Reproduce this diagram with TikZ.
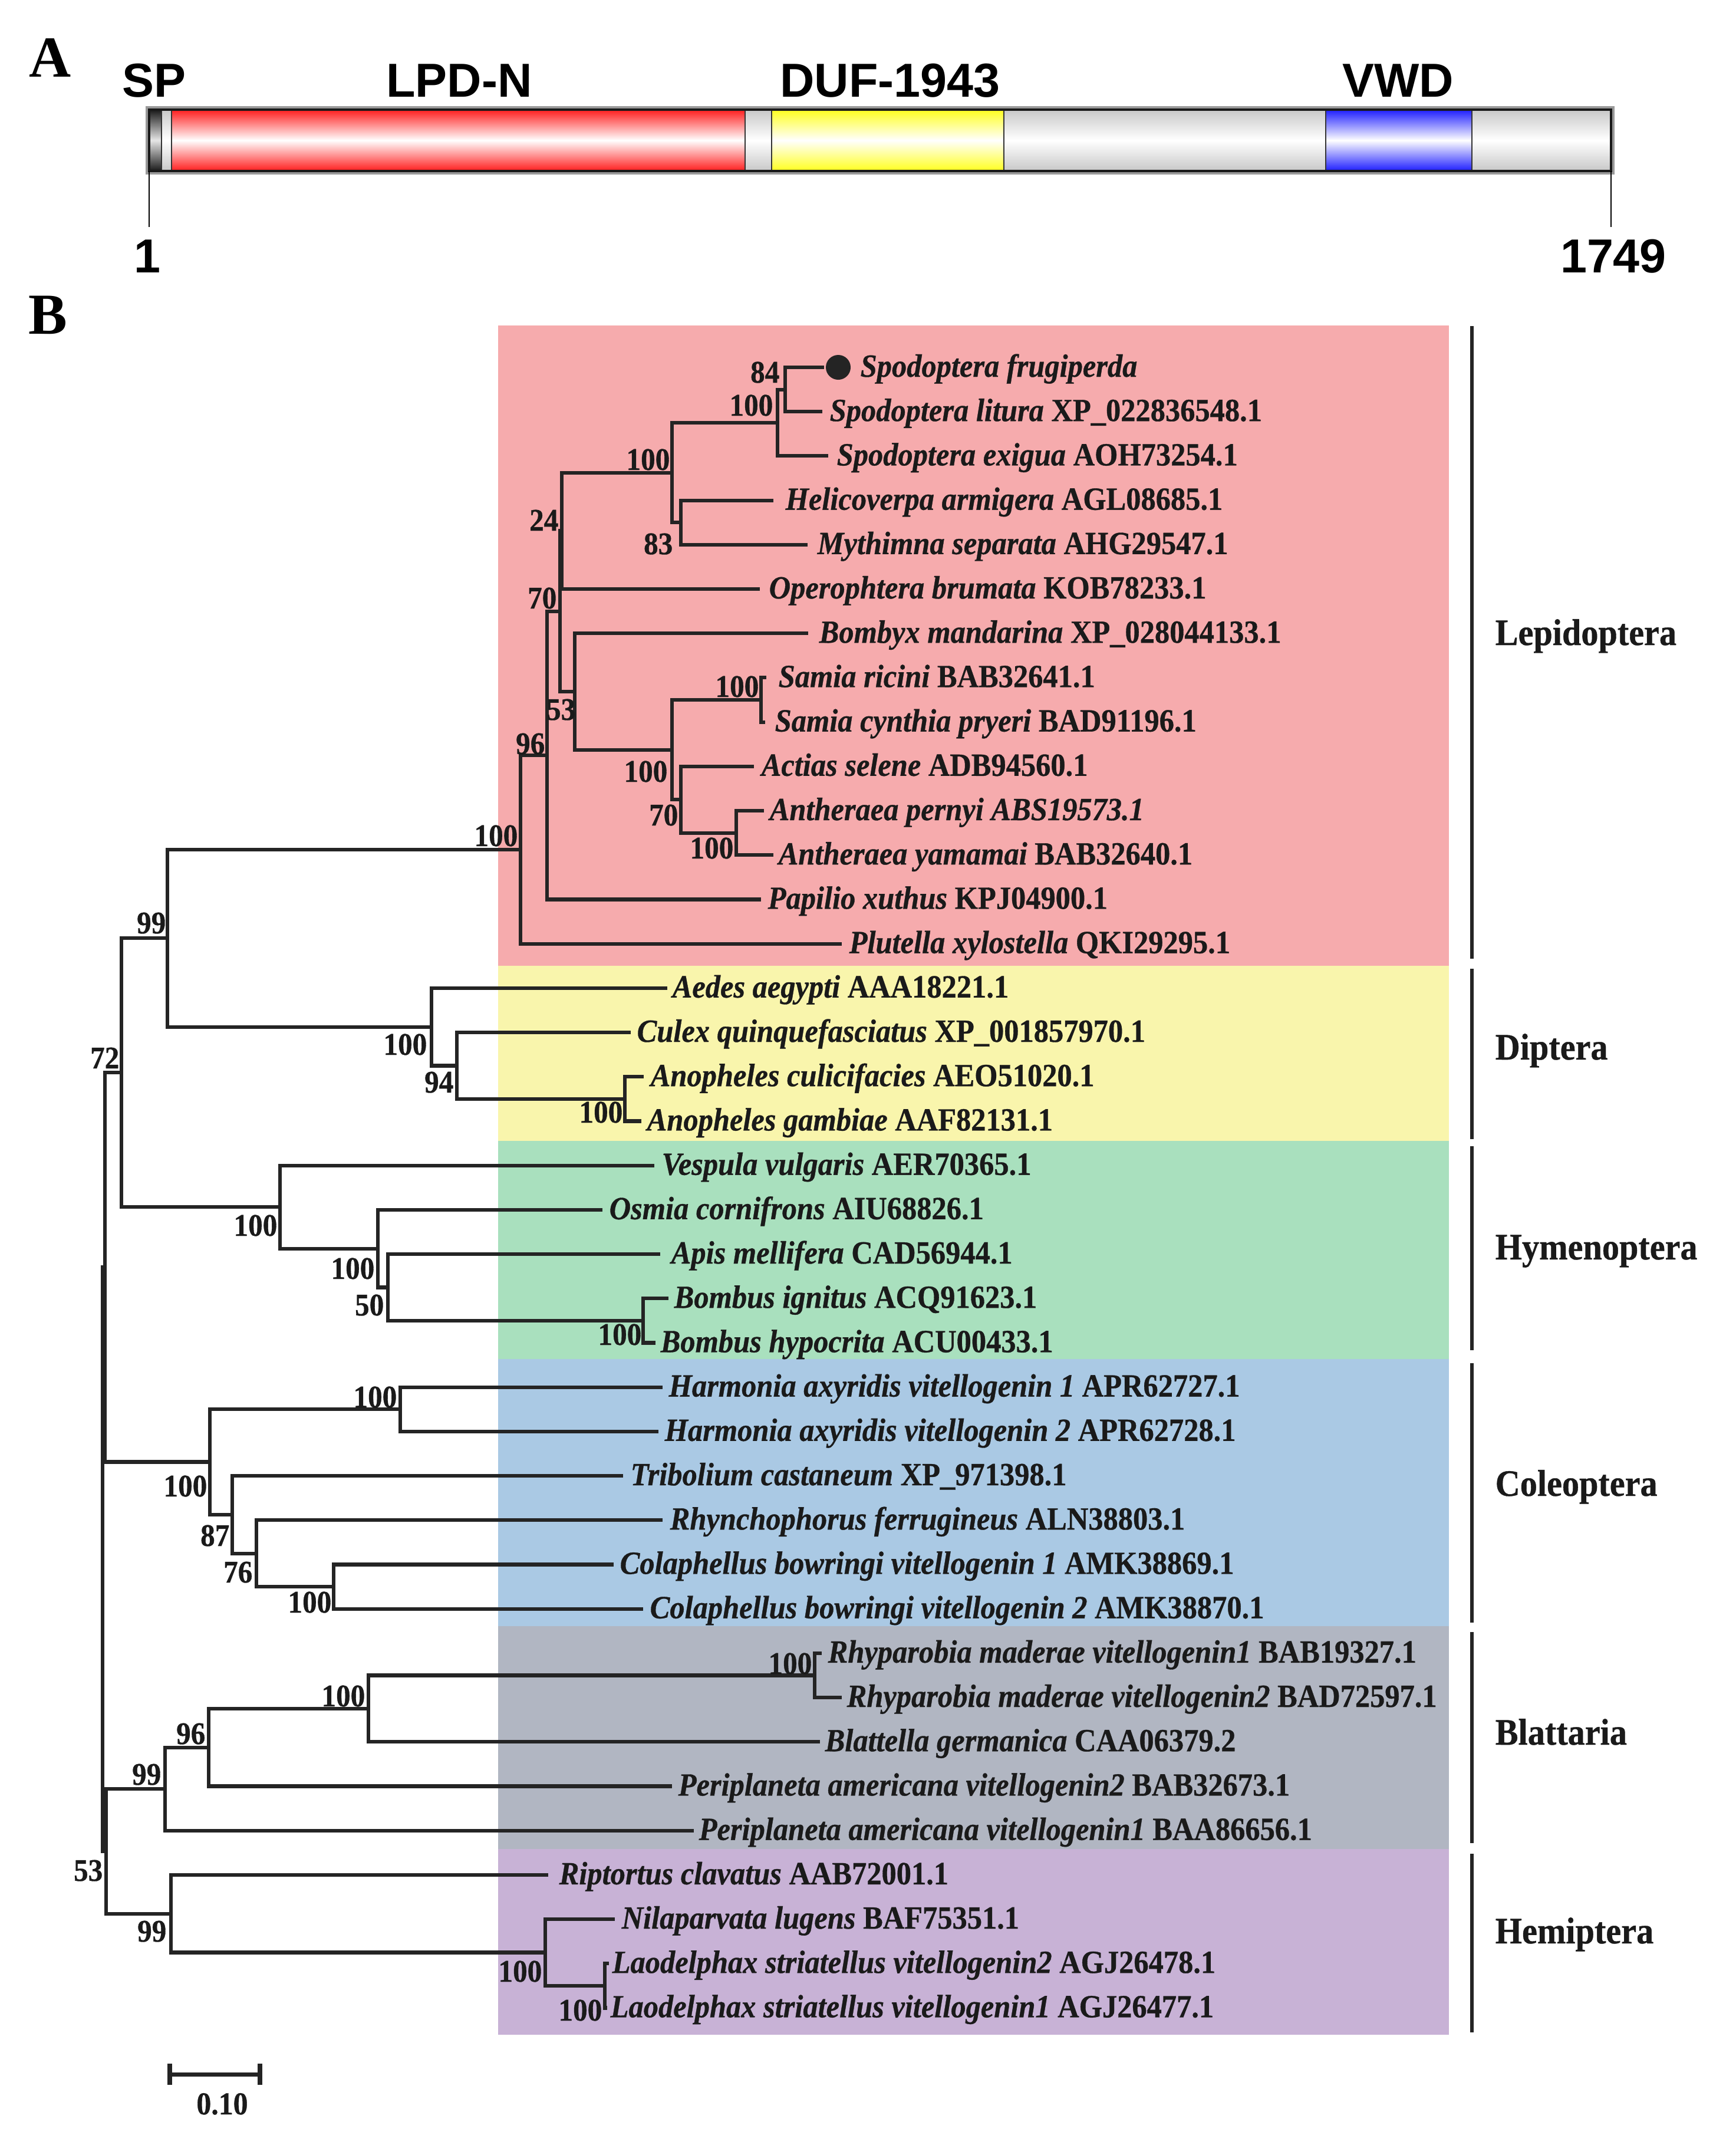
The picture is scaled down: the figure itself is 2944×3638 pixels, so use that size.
\documentclass[tikz,border=0pt]{standalone}
\usepackage{fontspec}
\setmainfont{Liberation Serif}
\setsansfont{Liberation Sans}
\newfontfamily\taxfont{Liberation Serif}[FakeStretch=0.92, BoldFeatures={FakeBold=0.6}, BoldItalicFeatures={FakeBold=0.6}]
\definecolor{lc}{RGB}{36,36,36}
\definecolor{tc}{RGB}{26,26,26}
\definecolor{pinkbg}{RGB}{246,171,173}
\definecolor{yellowbg}{RGB}{249,245,172}
\definecolor{greenbg}{RGB}{169,224,190}
\definecolor{bluebg}{RGB}{170,201,228}
\definecolor{graybg}{RGB}{177,182,194}
\definecolor{purplebg}{RGB}{200,178,214}
\definecolor{segred}{RGB}{255,30,30}
\definecolor{segyel}{RGB}{255,255,30}
\definecolor{segblu}{RGB}{30,30,255}
\definecolor{seggry}{RGB}{200,200,200}
\newcommand{\mytx}[2]{\textit{#1} #2}
\tikzset{
  br/.style={draw=lc, line width=1.75pt, line join=miter},
  tx/.style={anchor=base west, inner sep=0pt, font=\taxfont\fontsize{15.6}{18}\selectfont\bfseries, text=tc},
  bs/.style={anchor=base east, inner sep=0pt, font=\taxfont\fontsize{15.2}{18}\selectfont\bfseries, text=tc},
  clade/.style={anchor=base west, inner sep=0pt, font=\taxfont\fontsize{18}{21}\selectfont\bfseries, text=tc},
  cbar/.style={draw=lc, line width=1.7pt},
  dom/.style={anchor=base, inner sep=0pt, font=\fontsize{23}{27}\selectfont\sffamily\bfseries, text=black},
  panel/.style={anchor=base, inner sep=0pt, font=\fontsize{28}{30}\selectfont\bfseries, text=black},
  segline/.style={draw=black!80, line width=0.5pt},
}
\begin{document}
\begin{tikzpicture}[x=0.01cm, y=-0.01cm]
\useasboundingbox (0,0) rectangle (2944,3638);
\fill[white] (0,0) rectangle (2944,3638);

% ---------------- Panel A ----------------
\node[panel] (pA) at (85,130) {A};
\shade[top color=black!90, bottom color=black!90, middle color=black!10] (253,186) rectangle (274,290);
\shade[top color=seggry, bottom color=seggry, middle color=white] (274,186) rectangle (291,290);
\shade[top color=segred, bottom color=segred, middle color=white] (291,186) rectangle (1264,290);
\shade[top color=seggry, bottom color=seggry, middle color=white] (1264,186) rectangle (1309,290);
\shade[top color=segyel, bottom color=segyel, middle color=white] (1309,186) rectangle (1703,290);
\shade[top color=seggry, bottom color=seggry, middle color=white] (1703,186) rectangle (2249,290);
\shade[top color=segblu, bottom color=segblu, middle color=white] (2249,186) rectangle (2497,290);
\shade[top color=seggry, bottom color=seggry, middle color=white] (2497,186) rectangle (2733,290);
\foreach \sx in {274,291,1264,1309,1703,2249,2497}
  \draw[segline] (\sx,186) -- (\sx,290);
\draw[draw=black!40, line width=2.2pt] (251,184) rectangle (2735,292);
\draw[draw=black!90, line width=1.2pt] (253,186) rectangle (2733,290);
\draw[draw=black, line width=0.6pt] (253,290) -- (253,385);
\draw[draw=black, line width=0.6pt] (2733,290) -- (2733,385);
\node[dom] (dSP) at (261,164) {SP};
\node[dom] (dLPD) at (779,164) {LPD-N};
\node[dom] (dDUF) at (1510,164) {DUF-1943};
\node[dom] (dVWD) at (2372,164) {VWD};
\node[dom] (n1) at (250,462) {1};
\node[dom] (n1749) at (2737,462) {1749};

% ---------------- Panel B ----------------
\node[panel] (pB) at (81,566) {B};
\fill[pinkbg] (845,552) rectangle (2458,1638);
\fill[yellowbg] (845,1638) rectangle (2458,1935);
\fill[greenbg] (845,1935) rectangle (2458,2305);
\fill[bluebg] (845,2305) rectangle (2458,2758);
\fill[graybg] (845,2758) rectangle (2458,3136);
\fill[purplebg] (845,3136) rectangle (2458,3451);

% clade bars and labels
\draw[cbar] (2497,553) -- (2497,1626);
\draw[cbar] (2497,1643) -- (2497,1932);
\draw[cbar] (2497,1944) -- (2497,2290);
\draw[cbar] (2497,2312) -- (2497,2752);
\draw[cbar] (2497,2768) -- (2497,3126);
\draw[cbar] (2497,3144) -- (2497,3447);
\node[clade] (cLep) at (2536,1094) {Lepidoptera};
\node[clade] (cDip) at (2536,1797) {Diptera};
\node[clade] (cHym) at (2536,2136) {Hymenoptera};
\node[clade] (cCol) at (2536,2537) {Coleoptera};
\node[clade] (cBla) at (2536,2959) {Blattaria};
\node[clade] (cHem) at (2536,3296) {Hemiptera};

% tip coordinates
\coordinate (t1) at (1398,623.0);
\coordinate (t2) at (1395,698.2);
\coordinate (t3) at (1405,773.4);
\coordinate (t4) at (1312,848.6);
\coordinate (t5) at (1370,923.8);
\coordinate (t6) at (1289,999.0);
\coordinate (t7) at (1371,1074.2);
\coordinate (t8) at (1300,1149.4);
\coordinate (t9) at (1298,1224.6);
\coordinate (t10) at (1279,1299.8);
\coordinate (t11) at (1296,1375.0);
\coordinate (t12) at (1312,1450.2);
\coordinate (t13) at (1291,1525.4);
\coordinate (t14) at (1428,1600.6);
\coordinate (t15) at (1132,1675.8);
\coordinate (t16) at (1070,1751.0);
\coordinate (t17) at (1092,1826.2);
\coordinate (t18) at (1088,1901.4);
\coordinate (t19) at (1110,1976.6);
\coordinate (t20) at (1022,2051.8);
\coordinate (t21) at (1120,2127.0);
\coordinate (t22) at (1134,2202.2);
\coordinate (t23) at (1112,2277.4);
\coordinate (t24) at (1124,2352.6);
\coordinate (t25) at (1117,2427.8);
\coordinate (t26) at (1057,2503.0);
\coordinate (t27) at (1124,2578.2);
\coordinate (t28) at (1041,2653.4);
\coordinate (t29) at (1091,2728.6);
\coordinate (t30) at (1394,2803.8);
\coordinate (t31) at (1428,2879.0);
\coordinate (t32) at (1391,2954.2);
\coordinate (t33) at (1140,3029.4);
\coordinate (t34) at (1177,3104.6);
\coordinate (t35) at (930,3179.8);
\coordinate (t36) at (1043,3255.0);
\coordinate (t37) at (1033,3330.2);
\coordinate (t38) at (1030,3405.4);

% internal nodes
\coordinate (nA) at (1332,660.6);
\coordinate (nB) at (1319,717.0);
\coordinate (nC) at (1155,886.2);
\coordinate (nD) at (1140,801.6);
\coordinate (nE) at (953,900.3);
\coordinate (nJ) at (1291,1187.0);
\coordinate (nK) at (1249,1412.6);
\coordinate (nL) at (1155,1356.2);
\coordinate (nM) at (1140,1271.6);
\coordinate (nG) at (975,1172.9);
\coordinate (nF) at (950,1036.6);
\coordinate (nH) at (928,1281.0);
\coordinate (nI) at (883,1440.8);
\coordinate (nAn) at (1060,1863.8);
\coordinate (nCu) at (775,1807.4);
\coordinate (nDi) at (732,1741.6);
\coordinate (nNa) at (284,1591.2);
\coordinate (nBo) at (1091,2239.8);
\coordinate (nAp) at (658,2183.4);
\coordinate (nOs) at (641,2117.6);
\coordinate (nHy) at (475,2047.1);
\coordinate (nSt) at (206,1819.2);
\coordinate (nHa) at (679,2390.2);
\coordinate (nCb) at (566,2691.0);
\coordinate (nSs) at (435,2634.6);
\coordinate (nEs) at (394,2568.8);
\coordinate (nCo) at (356,2479.5);
\coordinate (nP) at (178,2149.4);
\coordinate (nRh) at (1382,2841.4);
\coordinate (nBl) at (625,2897.8);
\coordinate (nNs) at (354,2963.6);
\coordinate (nNb) at (280,3034.1);
\coordinate (nLa) at (1026,3367.8);
\coordinate (nNi) at (925,3311.4);
\coordinate (nNc) at (290,3245.6);
\coordinate (nFt) at (180,3139.9);
\coordinate (nR) at (174,2644.6);

% branches
\foreach \p/\c in {nA/t1,nA/t2,nB/nA,nB/t3,nC/t4,nC/t5,nD/nB,nD/nC,nE/nD,nE/t6,
  nJ/t8,nJ/t9,nK/t11,nK/t12,nL/t10,nL/nK,nM/nJ,nM/nL,nG/t7,nG/nM,nF/nE,nF/nG,
  nH/nF,nH/t13,nI/nH,nI/t14,nAn/t17,nAn/t18,nCu/t16,nCu/nAn,nDi/t15,nDi/nCu,
  nNa/nI,nNa/nDi,nBo/t22,nBo/t23,nAp/t21,nAp/nBo,nOs/t20,nOs/nAp,nHy/t19,nHy/nOs,
  nSt/nNa,nSt/nHy,nHa/t24,nHa/t25,nCb/t28,nCb/t29,nSs/t27,nSs/nCb,nEs/t26,nEs/nSs,
  nCo/nHa,nCo/nEs,nP/nSt,nP/nCo,nRh/t30,nRh/t31,nBl/nRh,nBl/t32,nNs/nBl,nNs/t33,
  nNb/nNs,nNb/t34,nLa/t37,nLa/t38,nNi/t36,nNi/nLa,nNc/t35,nNc/nNi,nFt/nNb,nFt/nNc,
  nR/nP,nR/nFt}
  \draw[br] (\p) |- (\c);

\node[circle, fill=lc, inner sep=0pt, minimum size=0.42cm] (dot) at (1422,623) {};

% taxon labels
\node[tx] (l1) at (1459,639) {\mytx{Spodoptera frugiperda}{}};
\node[tx] (l2) at (1407,714.2) {\mytx{Spodoptera litura}{XP\_022836548.1}};
\node[tx] (l3) at (1419,789.4) {\mytx{Spodoptera exigua}{AOH73254.1}};
\node[tx] (l4) at (1332,864.6) {\mytx{Helicoverpa armigera}{AGL08685.1}};
\node[tx] (l5) at (1386,939.8) {\mytx{Mythimna separata}{AHG29547.1}};
\node[tx] (l6) at (1304,1015) {\mytx{Operophtera brumata}{KOB78233.1}};
\node[tx] (l7) at (1389,1090.2) {\mytx{Bombyx mandarina}{XP\_028044133.1}};
\node[tx] (l8) at (1320,1165.4) {\mytx{Samia ricini}{BAB32641.1}};
\node[tx] (l9) at (1314,1240.6) {\mytx{Samia cynthia pryeri}{BAD91196.1}};
\node[tx] (l10) at (1291,1315.8) {\mytx{Actias selene}{ADB94560.1}};
\node[tx] (l11) at (1305,1391) {\textit{Antheraea pernyi ABS19573.1}};
\node[tx] (l12) at (1320,1466.2) {\mytx{Antheraea yamamai}{BAB32640.1}};
\node[tx] (l13) at (1302,1541.4) {\mytx{Papilio xuthus}{KPJ04900.1}};
\node[tx] (l14) at (1440,1616.6) {\mytx{Plutella xylostella}{QKI29295.1}};
\node[tx] (l15) at (1140,1691.8) {\mytx{Aedes aegypti}{AAA18221.1}};
\node[tx] (l16) at (1080,1767) {\mytx{Culex quinquefasciatus}{XP\_001857970.1}};
\node[tx] (l17) at (1103,1842.2) {\mytx{Anopheles culicifacies}{AEO51020.1}};
\node[tx] (l18) at (1097,1917.4) {\mytx{Anopheles gambiae}{AAF82131.1}};
\node[tx] (l19) at (1122,1992.6) {\mytx{Vespula vulgaris}{AER70365.1}};
\node[tx] (l20) at (1033,2067.8) {\mytx{Osmia cornifrons}{AIU68826.1}};
\node[tx] (l21) at (1138,2143) {\mytx{Apis mellifera}{CAD56944.1}};
\node[tx] (l22) at (1143,2218.2) {\mytx{Bombus ignitus}{ACQ91623.1}};
\node[tx] (l23) at (1120,2293.4) {\mytx{Bombus hypocrita}{ACU00433.1}};
\node[tx] (l24) at (1134,2368.6) {\mytx{Harmonia axyridis vitellogenin 1}{APR62727.1}};
\node[tx] (l25) at (1127,2443.8) {\mytx{Harmonia axyridis vitellogenin 2}{APR62728.1}};
\node[tx] (l26) at (1069,2519) {\mytx{Tribolium castaneum}{XP\_971398.1}};
\node[tx] (l27) at (1136,2594.2) {\mytx{Rhynchophorus ferrugineus}{ALN38803.1}};
\node[tx] (l28) at (1051,2669.4) {\mytx{Colaphellus bowringi vitellogenin 1}{AMK38869.1}};
\node[tx] (l29) at (1102,2744.6) {\mytx{Colaphellus bowringi vitellogenin 2}{AMK38870.1}};
\node[tx] (l30) at (1404,2819.8) {\mytx{Rhyparobia maderae vitellogenin1}{BAB19327.1}};
\node[tx] (l31) at (1436,2895) {\mytx{Rhyparobia maderae vitellogenin2}{BAD72597.1}};
\node[tx] (l32) at (1399,2970.2) {\mytx{Blattella germanica}{CAA06379.2}};
\node[tx] (l33) at (1150,3045.4) {\mytx{Periplaneta americana vitellogenin2}{BAB32673.1}};
\node[tx] (l34) at (1185,3120.6) {\mytx{Periplaneta americana vitellogenin1}{BAA86656.1}};
\node[tx] (l35) at (948,3195.8) {\mytx{Riptortus clavatus}{AAB72001.1}};
\node[tx] (l36) at (1054,3271) {\mytx{Nilaparvata lugens}{BAF75351.1}};
\node[tx] (l37) at (1038,3346.2) {\mytx{Laodelphax striatellus vitellogenin2}{AGJ26478.1}};
\node[tx] (l38) at (1035,3421.4) {\mytx{Laodelphax striatellus vitellogenin1}{AGJ26477.1}};

% bootstrap values
\node[bs] (bA) at (1323,649) {84};
\node[bs] (bB) at (1312,705) {100};
\node[bs] (bC) at (1142,940) {83};
\node[bs] (bD) at (1137,797) {100};
\node[bs] (bE) at (948,900) {24};
\node[bs] (bF) at (945,1032) {70};
\node[bs] (bG) at (977,1221) {53};
\node[bs] (bH) at (925,1279) {96};
\node[bs] (bI) at (879,1435) {100};
\node[bs] (bJ) at (1288,1182) {100};
\node[bs] (bK) at (1245,1456) {100};
\node[bs] (bL) at (1151,1400) {70};
\node[bs] (bM) at (1133,1326) {100};
\node[bs] (bNa) at (282,1583) {99};
\node[bs] (bDi) at (725,1789) {100};
\node[bs] (bCu) at (770,1853) {94};
\node[bs] (bAn) at (1057,1904) {100};
\node[bs] (bSt) at (203,1812) {72};
\node[bs] (bHy) at (471,2096) {100};
\node[bs] (bOs) at (636,2169) {100};
\node[bs] (bAp) at (652,2231) {50};
\node[bs] (bBo) at (1089,2281) {100};
\node[bs] (bHa) at (674,2387) {100};
\node[bs] (bCo) at (352,2538) {100};
\node[bs] (bEs) at (390,2622) {87};
\node[bs] (bSs) at (429,2684) {76};
\node[bs] (bCb) at (563,2735) {100};
\node[bs] (bRh) at (1378,2839) {100};
\node[bs] (bBl) at (620,2894) {100};
\node[bs] (bNs) at (349,2958) {96};
\node[bs] (bNb) at (274,3027) {99};
\node[bs] (bFt) at (175,3190) {53};
\node[bs] (bNc) at (283,3293) {99};
\node[bs] (bNi) at (920,3361) {100};
\node[bs] (bLa) at (1022,3427) {100};

% scale bar
\coordinate (sb1) at (288,3518);
\coordinate (sb2) at (441,3518);
\draw[draw=lc, line width=2pt] (sb1) -- (sb2);
\draw[draw=lc, line width=2pt] (288,3500) -- (288,3536);
\draw[draw=lc, line width=2pt] (441,3500) -- (441,3536);
\node[anchor=base, inner sep=0pt, font=\taxfont\fontsize{15.4}{18}\selectfont\bfseries, text=tc] (sbl) at (377,3586) {0.10};
\end{tikzpicture}
\end{document}
